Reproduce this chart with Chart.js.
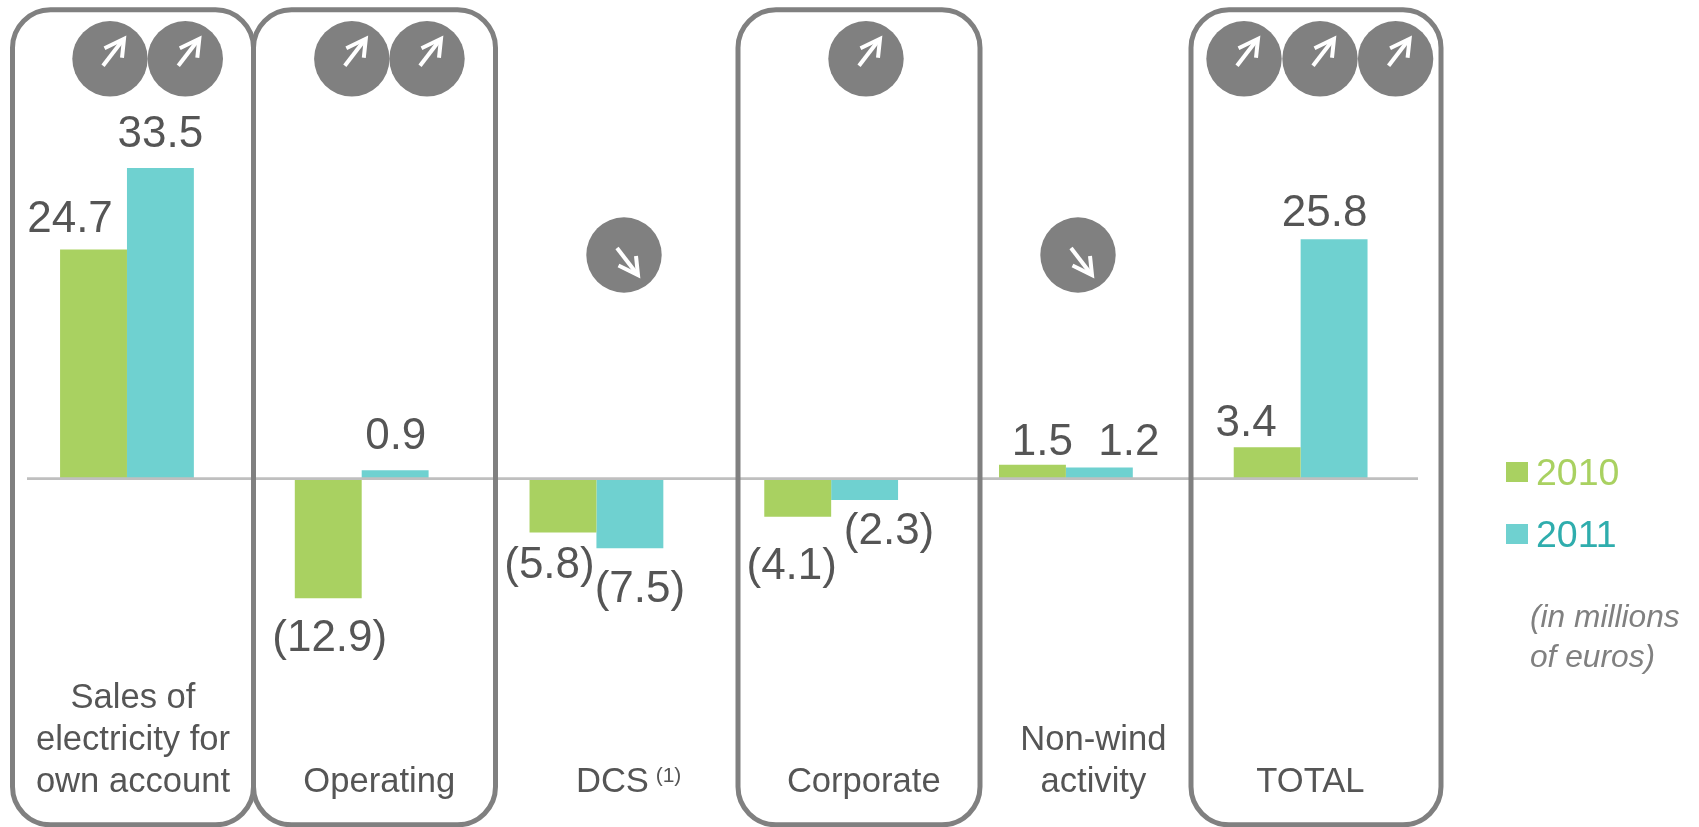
<!DOCTYPE html>
<html>
<head>
<meta charset="utf-8">
<title>Contribution by activity</title>
<script src="https://cdn.jsdelivr.net/npm/chart.js@4/dist/chart.umd.min.js"></script>
<style>
    html, body { margin: 0; padding: 0; background: #fff; overflow: hidden; }
    canvas { display: block; }
</style>
</head>
<body>
<canvas id="resultChart" width="1699" height="827"></canvas>
<script>
const categories = [
    ["Sales of", "electricity for", "own account"],
    ["Operating"],
    ["DCS"],
    ["Corporate"],
    ["Non-wind", "activity"],
    ["TOTAL"]
];
const years = ["2010", "2011"];
const values2010 = [24.7, -12.9, -5.8, -4.1, 1.5, 3.4];
const values2011 = [33.5, 0.9, -7.5, -2.3, 1.2, 25.8];
const footnoteMark = "(1)";
const unitNote = ["(in millions", "of euros)"];

const green = "#a9d161";
const teal = "#6fd1d0";
const tealText = "#2fadad";
const darkText = "#555555";
const panelGrey = "#808080";
const font = '"Liberation Sans", Arial, sans-serif';

// value label placement, relative to the end of each bar: [dx, baseline dy]
const labelOffsets2010 = [[-23.5, -18], [1.5, 53], [-13.5, 46], [-6, 62], [10, -10], [-21, -11.5]];
const labelOffsets2011 = [[0, -21.4], [0.6, -21], [10, 54], [24.4, 44.4], [29.5, -13], [-9.5, -13.6]];
const categoryLabelDx = [6, 17.5, 16, 32.6, 27.5, 9.8];

// rounded frames drawn around the categories that improved
const panels = [[12.5, 253.5], [253.5, 495.5], [738, 980], [1191, 1441]];
const upBadges = [110, 185.3, 351.8, 427, 866, 1244, 1320, 1395.6];
const downBadges = [624, 1078];

function formatValue(v) {
    return v < 0 ? "(" + Math.abs(v).toFixed(1) + ")" : v.toFixed(1);
}

function drawBadge(ctx, cx, cy, dir) {
    ctx.fillStyle = panelGrey;
    ctx.beginPath();
    ctx.arc(cx, cy, 37.7, 0, Math.PI * 2);
    ctx.fill();

    ctx.strokeStyle = "#ffffff";
    ctx.lineWidth = 4;
    ctx.lineJoin = "miter";
    ctx.beginPath();
    ctx.moveTo(cx - 7, cy + dir * 7);
    ctx.lineTo(cx + 13, cy - dir * 19);
    ctx.stroke();
    ctx.beginPath();
    ctx.moveTo(cx - 5.5, cy - dir * 10.5);
    ctx.lineTo(cx + 14, cy - dir * 20);
    ctx.lineTo(cx + 12, cy - dir * 1);
    ctx.stroke();
}

const zeroLinePlugin = {
    id: "zeroLine",
    afterDatasetsDraw(chart) {
        let ctx = chart.ctx;
        let y = chart.scales.y.getPixelForValue(0);
        ctx.save();
        ctx.strokeStyle = "#bfbfbf";
        ctx.lineWidth = 2.6;
        ctx.beginPath();
        ctx.moveTo(27, y);
        ctx.lineTo(chart.chartArea.right, y);
        ctx.stroke();
        ctx.restore();
    }
};

const annotationPlugin = {
    id: "annotations",
    afterDatasetsDraw(chart) {
        let ctx = chart.ctx;
        ctx.save();

        // frames
        ctx.strokeStyle = panelGrey;
        ctx.lineWidth = 5;
        panels.forEach(function (p) {
            ctx.beginPath();
            ctx.roundRect(p[0], 9.8, p[1] - p[0], 815, 38);
            ctx.stroke();
        });

        // trend badges
        upBadges.forEach(function (x) { drawBadge(ctx, x, 58.8, 1); });
        downBadges.forEach(function (x) { drawBadge(ctx, x, 255, -1); });

        // value labels
        ctx.fillStyle = darkText;
        ctx.font = "44px " + font;
        ctx.textAlign = "center";
        ctx.textBaseline = "alphabetic";
        [labelOffsets2010, labelOffsets2011].forEach(function (offsets, ds) {
            let bars = chart.getDatasetMeta(ds).data;
            bars.forEach(function (bar, i) {
                let text = formatValue(chart.data.datasets[ds].data[i]);
                ctx.fillText(text, bar.x + offsets[i][0], bar.y + offsets[i][1]);
            });
        });

        // category names sit on a common last baseline
        ctx.font = "34.6px " + font;
        categories.forEach(function (lines, i) {
            let x = chart.scales.x.getPixelForValue(i) + categoryLabelDx[i];
            lines.forEach(function (line, n) {
                let y = 791.7 - (lines.length - 1 - n) * 42;
                ctx.fillText(line, x, y);
            });
        });
        ctx.font = "21px " + font;
        ctx.fillText(footnoteMark, 668.5, 782);

        // legend
        ctx.textAlign = "left";
        ctx.font = "37.5px " + font;
        ctx.fillStyle = green;
        ctx.fillRect(1506, 462, 22, 20);
        ctx.fillText(years[0], 1536, 485);
        ctx.fillStyle = teal;
        ctx.fillRect(1506, 524, 22, 20);
        ctx.fillStyle = tealText;
        ctx.fillText(years[1], 1536, 546.5);

        // unit note
        ctx.fillStyle = panelGrey;
        ctx.font = "italic 31.7px " + font;
        ctx.fillText(unitNote[0], 1530, 627);
        ctx.fillText(unitNote[1], 1530, 667);

        ctx.restore();
    }
};

document.addEventListener("DOMContentLoaded", function () {
    let ctx = document.getElementById("resultChart").getContext("2d");
    new Chart(ctx, {
        type: "bar",
        data: {
            labels: categories.map(function (c) { return c.join(" "); }),
            datasets: [
                { label: years[0], data: values2010, backgroundColor: green },
                { label: years[1], data: values2011, backgroundColor: teal }
            ]
        },
        options: {
            responsive: false,
            animation: false,
            categoryPercentage: 0.57,
            barPercentage: 1,
            layout: { padding: { left: 9.6, right: 281, top: 0, bottom: 0 } },
            plugins: { legend: { display: false }, tooltip: { enabled: false } },
            scales: {
                x: { display: false },
                y: { display: false, min: -37.55, max: 51.6 }
            }
        },
        plugins: [zeroLinePlugin, annotationPlugin]
    });
});
</script>
</body>
</html>
